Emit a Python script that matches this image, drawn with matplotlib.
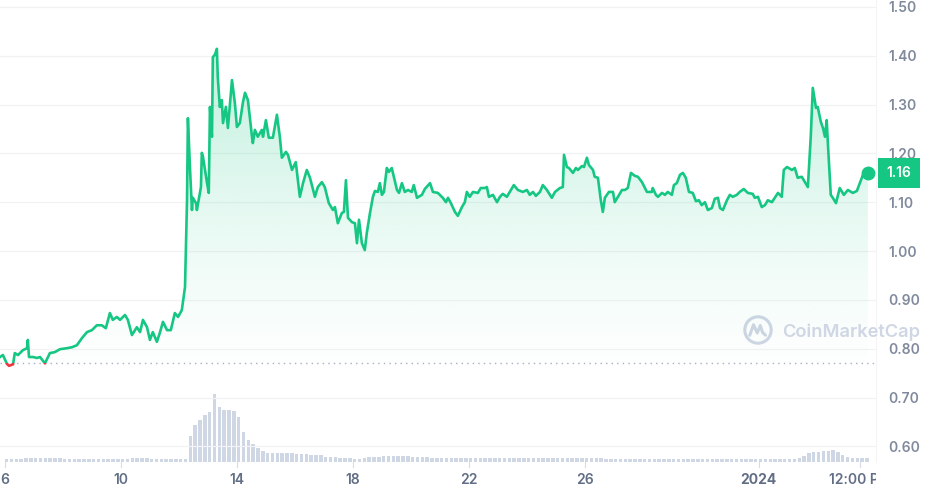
import numpy as np
import matplotlib
matplotlib.use('Agg')
from matplotlib import pyplot as plt
from matplotlib import transforms
from matplotlib.patches import Rectangle, Circle, Polygon

# Price series: x = day of December 2023 (Jan 1 2024 = 32), y = price in USD
days = [5.83, 5.93, 6.07, 6.14, 6.28, 6.34, 6.45, 6.62, 6.76, 6.79, 6.83, 6.97,
        7.10, 7.21, 7.38, 7.55, 7.72, 7.90, 8.14, 8.31, 8.48, 8.66, 8.83, 9.00,
        9.17, 9.34, 9.48, 9.62, 9.72, 9.86, 9.97, 10.14, 10.24, 10.38, 10.55,
        10.66, 10.76, 10.90, 11.00, 11.10, 11.24, 11.34, 11.45, 11.59, 11.72,
        11.86, 11.97, 12.10, 12.21, 12.28, 12.31, 12.38, 12.45, 12.48, 12.59,
        12.62, 12.76, 12.79, 12.83, 12.97, 13.03, 13.07, 13.14, 13.17, 13.24,
        13.31, 13.34, 13.41, 13.48, 13.52, 13.62, 13.69, 13.83, 13.93, 14.00,
        14.10, 14.21, 14.28, 14.38, 14.52, 14.55, 14.62, 14.72, 14.86, 14.90,
        15.00, 15.10, 15.24, 15.38, 15.48, 15.55, 15.69, 15.76, 15.90, 16.03,
        16.17, 16.28, 16.41, 16.52, 16.69, 16.79, 16.93, 17.03, 17.17, 17.31,
        17.38, 17.48, 17.62, 17.69, 17.76, 17.83, 17.97, 18.07, 18.14, 18.21,
        18.31, 18.41, 18.48, 18.59, 18.69, 18.76, 18.86, 18.93, 19.00, 19.07,
        19.17, 19.24, 19.34, 19.38, 19.52, 19.59, 19.69, 19.79, 19.90, 20.03,
        20.10, 20.21, 20.38, 20.48, 20.66, 20.76, 20.93, 21.10, 21.21, 21.28,
        21.38, 21.52, 21.62, 21.76, 21.86, 21.93, 22.03, 22.14, 22.31, 22.41,
        22.55, 22.62, 22.69, 22.83, 22.97, 23.07, 23.17, 23.31, 23.41, 23.55,
        23.69, 23.86, 24.00, 24.10, 24.21, 24.31, 24.45, 24.55, 24.69, 24.86,
        24.97, 25.14, 25.24, 25.28, 25.38, 25.45, 25.59, 25.69, 25.76, 25.90,
        25.97, 26.07, 26.14, 26.28, 26.34, 26.45, 26.55, 26.62, 26.69, 26.83,
        26.97, 27.03, 27.14, 27.28, 27.38, 27.48, 27.59, 27.72, 27.83, 27.97,
        28.14, 28.31, 28.34, 28.45, 28.52, 28.66, 28.76, 28.86, 29.00, 29.07,
        29.17, 29.28, 29.38, 29.48, 29.59, 29.72, 29.83, 29.93, 30.03, 30.14,
        30.24, 30.38, 30.48, 30.59, 30.66, 30.76, 30.90, 31.00, 31.10, 31.24,
        31.34, 31.48, 31.62, 31.79, 31.86, 31.97, 32.10, 32.21, 32.31, 32.45,
        32.55, 32.66, 32.79, 32.86, 32.97, 33.14, 33.24, 33.34, 33.48, 33.59,
        33.69, 33.79, 33.86, 33.97, 34.03, 34.14, 34.21, 34.28, 34.34, 34.38,
        34.48, 34.55, 34.66, 34.79, 34.93, 35.07, 35.24, 35.38, 35.52, 35.59,
        35.76]
prices = [0.783, 0.787, 0.769, 0.765, 0.768, 0.791, 0.787, 0.797, 0.801, 0.818,
          0.783, 0.783, 0.781, 0.783, 0.770, 0.791, 0.793, 0.799, 0.801, 0.803,
          0.807, 0.822, 0.834, 0.838, 0.848, 0.848, 0.842, 0.873, 0.859, 0.865,
          0.859, 0.869, 0.859, 0.828, 0.844, 0.834, 0.859, 0.844, 0.818, 0.834,
          0.814, 0.832, 0.855, 0.838, 0.838, 0.873, 0.865, 0.879, 0.926, 1.104,
          1.272, 1.172, 1.084, 1.109, 1.098, 1.084, 1.131, 1.201, 1.193, 1.139,
          1.119, 1.295, 1.234, 1.397, 1.402, 1.414, 1.357, 1.295, 1.309, 1.262,
          1.295, 1.252, 1.350, 1.303, 1.254, 1.262, 1.305, 1.324, 1.309, 1.234,
          1.221, 1.248, 1.234, 1.248, 1.234, 1.268, 1.232, 1.232, 1.279, 1.234,
          1.191, 1.203, 1.197, 1.166, 1.182, 1.111, 1.139, 1.166, 1.150, 1.111,
          1.131, 1.141, 1.131, 1.098, 1.084, 1.090, 1.057, 1.078, 1.080, 1.145,
          1.068, 1.059, 1.057, 1.016, 1.064, 1.016, 1.002, 1.037, 1.078, 1.111,
          1.123, 1.121, 1.139, 1.115, 1.121, 1.170, 1.162, 1.170, 1.160, 1.125,
          1.119, 1.139, 1.121, 1.125, 1.121, 1.135, 1.109, 1.115, 1.127, 1.139,
          1.121, 1.119, 1.109, 1.100, 1.109, 1.098, 1.080, 1.072, 1.090, 1.100,
          1.121, 1.111, 1.121, 1.119, 1.129, 1.129, 1.131, 1.111, 1.115, 1.100,
          1.111, 1.117, 1.111, 1.121, 1.135, 1.125, 1.121, 1.125, 1.115, 1.121,
          1.113, 1.121, 1.135, 1.125, 1.109, 1.121, 1.129, 1.131, 1.197, 1.172,
          1.170, 1.160, 1.170, 1.166, 1.174, 1.172, 1.191, 1.176, 1.166, 1.152,
          1.150, 1.104, 1.080, 1.109, 1.121, 1.121, 1.100, 1.111, 1.125, 1.125,
          1.129, 1.160, 1.154, 1.152, 1.141, 1.121, 1.121, 1.129, 1.115, 1.111,
          1.119, 1.115, 1.121, 1.115, 1.135, 1.139, 1.156, 1.160, 1.150, 1.121,
          1.119, 1.102, 1.104, 1.094, 1.100, 1.084, 1.088, 1.107, 1.109, 1.088,
          1.084, 1.104, 1.115, 1.111, 1.115, 1.121, 1.127, 1.119, 1.117, 1.109,
          1.111, 1.090, 1.094, 1.104, 1.100, 1.109, 1.119, 1.111, 1.166, 1.172,
          1.166, 1.170, 1.150, 1.152, 1.141, 1.131, 1.234, 1.334, 1.293, 1.295,
          1.264, 1.252, 1.234, 1.268, 1.221, 1.115, 1.109, 1.098, 1.129, 1.115,
          1.125, 1.119, 1.123, 1.145, 1.156, 1.160]

open_price = 0.771  # dotted reference line (price at start of range)

# Volume bars, 4-hour steps starting Dec 6 00:00 (relative units)
vol_start = 6.0
volume = [3, 3, 3, 3, 4, 4,        # Dec 6
          4, 4, 4, 4, 4, 4,        # Dec 7
          3, 3, 3, 3, 3, 3,        # Dec 8
          3, 3, 3, 3, 3, 3,        # Dec 9
          3, 3, 4, 4, 4, 4,        # Dec 10
          3, 3, 3, 3, 3, 3,        # Dec 11
          3, 3, 26, 37, 42, 47,    # Dec 12
          50, 68, 55, 52, 52, 51,  # Dec 13
          45, 30, 22, 18, 14, 11,  # Dec 14
          9, 9, 9, 9, 9, 9,        # Dec 15
          8, 8, 8, 7, 7, 7,        # Dec 16
          5, 5, 5, 4, 4, 4,        # Dec 17
          3, 3, 4, 5, 5, 5,        # Dec 18
          6, 6, 6, 6, 6, 6,        # Dec 19
          5, 5, 5, 5, 4, 4,        # Dec 20
          4, 4, 4, 4, 4, 4,        # Dec 21
          4, 4, 4, 4, 4, 4,        # Dec 22
          4, 4, 4, 4, 4, 4,        # Dec 23
          4, 4, 4, 4, 4, 4,        # Dec 24
          4, 4, 4, 4, 4, 4,        # Dec 25
          4, 4, 4, 4, 3, 3,        # Dec 26
          3, 3, 3, 3, 3, 3,        # Dec 27
          3, 3, 3, 3, 3, 3,        # Dec 28
          3, 3, 3, 3, 3, 3,        # Dec 29
          3, 3, 3, 3, 3, 3,        # Dec 30
          3, 3, 3, 3, 3, 3,        # Dec 31
          3, 3, 3, 3, 3, 3,        # Jan 1
          3, 3, 4, 6, 9, 10,       # Jan 2
          10, 11, 11, 12, 10, 7,   # Jan 3
          5, 4, 4, 4, 4]           # Jan 4

x_ticks = [6, 10, 14, 18, 22, 26, 32, 35.5]
x_labels = ['6', '10', '14', '18', '22', '26', '2024', '12:00 PM']
y_ticks = [0.60, 0.70, 0.80, 0.90, 1.00, 1.10, 1.20, 1.30, 1.40, 1.50]

GREEN = '#16c784'
RED = '#ea3943'
GREY = '#808a9d'
WATERMARK = '#cfd6e4'

plt.rcParams['font.family'] = ['Inter', 'DejaVu Sans']

fig = plt.figure(figsize=(9.28, 4.95), dpi=100)
ax_right = 876 / 928
ax = fig.add_axes([0.0, 33 / 495, ax_right, 462 / 495])
ax.set_xlim(5.83, 36.04)
ax.set_ylim(0.568, 1.514)

# volume on its own scale, bottom of the same area
ax_vol = ax.twinx()
ax_vol.set_ylim(0, max(volume) * 6.8)
vol_x = vol_start + np.arange(len(volume)) / 6
ax_vol.bar(vol_x, volume, width=0.12, color='#cfd6e4', align='edge', zorder=1)
ax_vol.axis('off')
ax.set_zorder(ax_vol.get_zorder() + 1)
ax.patch.set_visible(False)

# grid
for t in y_ticks:
    ax.axhline(t, color='#f2f2f4', lw=0.9, zorder=0)
ax.axhline(open_price, color='#a6b0c3', lw=1.0, ls=(0, (1, 3)), zorder=2)

# gradient fill under the line
x = np.array(days)
y = np.array(prices)
grad = np.linspace(0.0, 1.0, 256).reshape(-1, 1)
rgba = np.zeros((256, 1, 4))
rgba[..., 0] = 22 / 255
rgba[..., 1] = 199 / 255
rgba[..., 2] = 132 / 255
rgba[..., 3] = 0.01 + 0.26 * grad[:, 0:1] ** 1.3
img = ax.imshow(rgba, extent=[x[0], x[-1], open_price, 1.42], origin='lower',
                aspect='auto', zorder=2, interpolation='bilinear')
poly = Polygon(np.column_stack([np.r_[x, x[-1], x[0]],
                                np.r_[y, open_price, open_price]]),
               closed=True, transform=ax.transData)
img.set_clip_path(poly)

# line: green above the open price, red below
above = Rectangle((x[0] - 1, open_price), 40, 2, transform=ax.transData)
below = Rectangle((x[0] - 1, 0), 40, open_price, transform=ax.transData)
g_line, = ax.plot(x, y, color=GREEN, lw=1.9, zorder=4, solid_joinstyle='round')
g_line.set_clip_path(above)
r_line, = ax.plot(x, y, color=RED, lw=1.9, zorder=4, solid_joinstyle='round')
r_line.set_clip_path(below)
ax.plot(x[-1], y[-1], 'o', color=GREEN, ms=9, zorder=5, clip_on=False)

# y axis on the right
ax.yaxis.tick_right()
ax.set_yticks(y_ticks)
ax.set_yticklabels(['{0:.2f}'.format(t) for t in y_ticks])
ax.tick_params(axis='y', length=0, pad=9, labelsize=10, labelcolor=GREY)
for lbl in ax.get_yticklabels():
    lbl.set_fontweight('semibold')
    lbl.set_horizontalalignment('left')

# x labels drawn manually so that the last one is cut at the plot edge
ax.set_xticks([])
clip_rect = Rectangle((0, 0), ax_right, 1, transform=fig.transFigure)
xt = transforms.blended_transform_factory(ax.transData, ax.transAxes)
for pos, lab in zip(x_ticks, x_labels):
    t = ax.text(pos, -0.039, lab, transform=xt, ha='center', va='center',
                fontsize=10, color='#616e85',
                fontweight='bold' if lab == '2024' else 'semibold',
                clip_on=True)
    t.set_clip_path(clip_rect)
    ax.plot([pos, pos], [0, -0.01], transform=xt, color='#d6dbe4', lw=0.8,
            clip_on=False)

for s in ['top', 'left', 'bottom']:
    ax.spines[s].set_visible(False)
ax.spines['right'].set_color('#f4f4f6')

# current price tag
pt = transforms.blended_transform_factory(ax.transAxes, ax.transData)
ax.text(1.012, y[-1], '{0:.2f}'.format(y[-1]), transform=pt, ha='left',
        va='center', fontsize=10, color='white', fontweight='semibold',
        bbox=dict(boxstyle='square,pad=0.6', fc=GREEN, ec='none'), zorder=6)

# watermark
logo = fig.add_axes([743 / 928, 1 - 345 / 495, 30 / 928, 30 / 495])
logo.set_xlim(-1, 1)
logo.set_ylim(-1, 1)
logo.set_aspect('equal')
logo.axis('off')
logo.add_patch(Circle((0, 0), 0.88, fill=False, ec=WATERMARK, lw=2.2))
logo.plot([-0.55, -0.3, -0.05, 0.15, 0.3, 0.5],
          [-0.35, 0.35, -0.2, 0.3, -0.15, -0.35],
          color=WATERMARK, lw=2.2, solid_joinstyle='round',
          solid_capstyle='round')
fig.text(782 / 928, 1 - 332 / 495, 'CoinMarketCap', fontsize=13.2,
         color=WATERMARK, fontweight='semibold', ha='left', va='center',
         zorder=10)

fig.savefig('out.png', dpi=100)
